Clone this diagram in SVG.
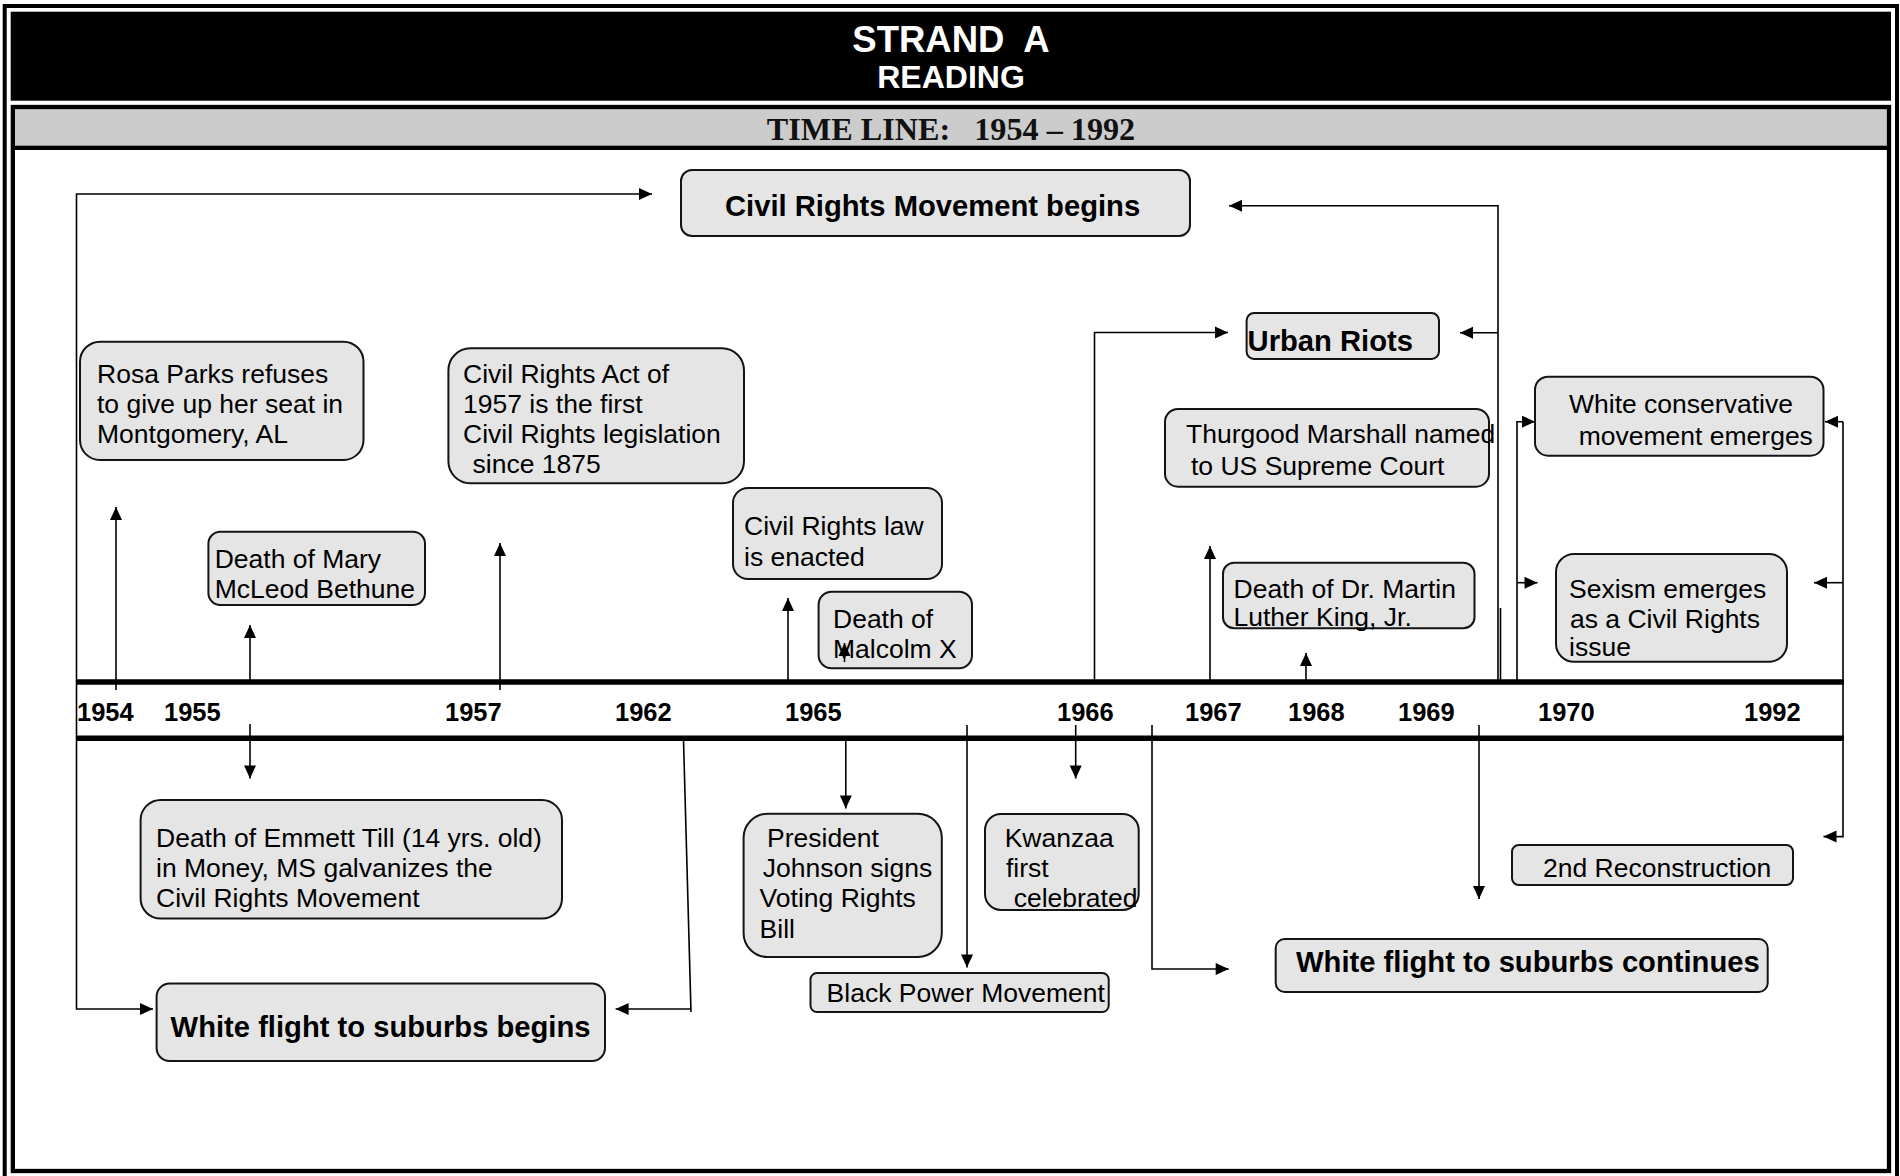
<svg xmlns="http://www.w3.org/2000/svg" width="1900" height="1176" viewBox="0 0 1900 1176">
<style>
.box{fill:#e5e5e5;stroke:#141414;stroke-width:2}
.t{font-family:"Liberation Sans",Arial,sans-serif;font-size:26.5px;fill:#000}
.tb{font-family:"Liberation Sans",Arial,sans-serif;font-size:29.2px;font-weight:bold;fill:#000}
.yr{font-family:"Liberation Sans",Arial,sans-serif;font-size:25.5px;font-weight:bold;fill:#000}
.c{fill:none;stroke:#000;stroke-width:1.6}
.bar{stroke:#000;stroke-width:5.5}
</style>
<defs>
<marker id="ah" markerUnits="userSpaceOnUse" markerWidth="13" markerHeight="12" refX="13" refY="6" orient="auto" overflow="visible">
<path d="M0,0 L13,6 L0,12 z" fill="#000"/>
</marker>
</defs>
<rect width="1900" height="1176" fill="#fff"/>
<g id="frame">
<rect x="4.7" y="6" width="1892.3" height="1180" fill="none" stroke="#000" stroke-width="4"/>
<rect x="10.7" y="11.7" width="1880.3" height="89" fill="#000"/>
<rect x="15" y="109" width="1872" height="37" fill="#cccccc"/>
<rect x="15" y="145.7" width="1872" height="4.3" fill="#000"/>
<rect x="12.85" y="107" width="1876.15" height="1064" fill="none" stroke="#000" stroke-width="4.3"/>
<text x="951" y="52" text-anchor="middle" xml:space="preserve" style="font-family:'Liberation Sans',Arial,sans-serif;font-size:36.5px;font-weight:bold;fill:#fff">STRAND  A</text>
<text x="951" y="88" text-anchor="middle" style="font-family:'Liberation Sans',Arial,sans-serif;font-size:32px;font-weight:bold;fill:#fff">READING</text>
<text x="951" y="140" text-anchor="middle" xml:space="preserve" style="font-family:'Liberation Serif','Times New Roman',serif;font-size:32.2px;font-weight:bold;fill:#111">TIME LINE:   1954 – 1992</text>
</g>
<g id="timeline">
<line class="bar" x1="76" y1="682" x2="1844" y2="682"/>
<line class="bar" x1="76" y1="738.3" x2="1844" y2="738.3"/>
<text class="yr" x="77" y="721">1954</text>
<text class="yr" x="164" y="721">1955</text>
<text class="yr" x="445" y="721">1957</text>
<text class="yr" x="615" y="721">1962</text>
<text class="yr" x="785" y="721">1965</text>
<text class="yr" x="1057" y="721">1966</text>
<text class="yr" x="1185" y="721">1967</text>
<text class="yr" x="1288" y="721">1968</text>
<text class="yr" x="1398" y="721">1969</text>
<text class="yr" x="1538" y="721">1970</text>
<text class="yr" x="1744" y="721">1992</text>
</g>
<g id="n-crm"><rect class="box" x="681" y="170" width="509" height="66" rx="11"/><text class="tb" x="725" y="216">Civil Rights Movement begins</text></g>
<g id="n-urban"><rect class="box" x="1246.6" y="313" width="192.4" height="46" rx="7.5"/><text class="tb" x="1247.6" y="351">Urban Riots</text></g>
<g id="n-rosa"><rect class="box" x="80" y="341.7" width="283.5" height="118.3" rx="20"/><text class="t"><tspan x="97" y="383">Rosa Parks refuses</tspan><tspan x="97" y="413">to give up her seat in</tspan><tspan x="97" y="443">Montgomery, AL</tspan></text></g>
<g id="n-bethune"><rect class="box" x="208.4" y="531.7" width="216.6" height="73.3" rx="12"/><text class="t"><tspan x="214.7" y="567.5">Death of Mary</tspan><tspan x="214.7" y="597.5">McLeod Bethune</tspan></text></g>
<g id="n-cra57"><rect class="box" x="448.4" y="348.3" width="295.6" height="135" rx="22"/><text class="t"><tspan x="463" y="383">Civil Rights Act of</tspan><tspan x="463" y="413">1957 is the first</tspan><tspan x="463" y="443">Civil Rights legislation</tspan><tspan x="472.5" y="473">since 1875</tspan></text></g>
<g id="n-crlaw"><rect class="box" x="733" y="488" width="209" height="91" rx="15"/><text class="t"><tspan x="744" y="535">Civil Rights law</tspan><tspan x="744" y="566">is enacted</tspan></text></g>
<g id="n-malcolm"><rect class="box" x="818.6" y="591.7" width="153.4" height="76.6" rx="13"/><text class="t"><tspan x="833" y="627.5">Death of</tspan><tspan x="833" y="658">Malcolm X</tspan></text></g>
<g id="n-thurgood"><rect class="box" x="1165" y="409" width="324" height="77.7" rx="13"/><text class="t"><tspan x="1186" y="443">Thurgood Marshall named</tspan><tspan x="1191" y="474.5">to US Supreme Court</tspan></text></g>
<g id="n-mlk"><rect class="box" x="1223" y="562.7" width="251.5" height="65.6" rx="11"/><text class="t"><tspan x="1233.5" y="597.5">Death of Dr. Martin</tspan><tspan x="1233.5" y="625.5">Luther King, Jr.</tspan></text></g>
<g id="n-whitecons"><rect class="box" x="1535" y="376.7" width="288.5" height="79" rx="13"/><text class="t"><tspan x="1569" y="413">White conservative</tspan><tspan x="1578.7" y="444.5">movement emerges</tspan></text></g>
<g id="n-sexism"><rect class="box" x="1556" y="554" width="231" height="107.7" rx="18"/><text class="t"><tspan x="1569" y="597.5">Sexism emerges</tspan><tspan x="1570" y="627.5">as a Civil Rights</tspan><tspan x="1569" y="655.5">issue</tspan></text></g>
<g id="n-recon"><rect class="box" x="1512" y="845" width="281" height="40" rx="6.7"/><text class="t" x="1543" y="876.5">2nd Reconstruction</text></g>
<g id="n-wfcont"><rect class="box" x="1275.7" y="939" width="492" height="53" rx="9"/><text class="tb" x="1296" y="972">White flight to suburbs continues</text></g>
<g id="n-kwanzaa"><rect class="box" x="985" y="814" width="153.7" height="96" rx="16"/><text class="t"><tspan x="1004.7" y="846.5">Kwanzaa</tspan><tspan x="1006" y="877">first</tspan><tspan x="1013.7" y="907">celebrated</tspan></text></g>
<g id="n-johnson"><rect class="box" x="743.6" y="813.7" width="198.2" height="143.3" rx="24"/><text class="t"><tspan x="767" y="846.5">President</tspan><tspan x="762.8" y="877">Johnson signs</tspan><tspan x="759.6" y="907">Voting Rights</tspan><tspan x="759.6" y="937.5">Bill</tspan></text></g>
<g id="n-blackpower"><rect class="box" x="810.5" y="973" width="298.2" height="39" rx="6.5"/><text class="t" x="826.6" y="1002">Black Power Movement</text></g>
<g id="n-emmett"><rect class="box" x="140.6" y="800" width="421.4" height="118.6" rx="20"/><text class="t"><tspan x="156" y="846.5">Death of Emmett Till (14 yrs. old)</tspan><tspan x="156" y="877">in Money, MS galvanizes the</tspan><tspan x="156" y="907">Civil Rights Movement</tspan></text></g>
<g id="n-wfbegins"><rect class="box" x="156.6" y="983.6" width="448.4" height="77.4" rx="13"/><text class="tb" x="170.6" y="1037">White flight to suburbs begins</text></g>
<g id="connectors">
<path class="c" d="M76.5,700 L76.5,194 L652,194" marker-end="url(#ah)"/>
<path class="c" d="M76.5,700 L76.5,1009 L153,1009" marker-end="url(#ah)"/>
<path class="c" d="M683.5,740 L691,1012"/>
<path class="c" d="M691,1009 L615.6,1009" marker-end="url(#ah)"/>
<path class="c" d="M116,690 L116,507" marker-end="url(#ah)"/>
<path class="c" d="M250,682 L250,625" marker-end="url(#ah)"/>
<path class="c" d="M250,724 L250,778.5" marker-end="url(#ah)"/>
<path class="c" d="M500,690 L500,543" marker-end="url(#ah)"/>
<path class="c" d="M788,682 L788,598" marker-end="url(#ah)"/>
<path class="c" d="M844.5,662 L844.5,643" marker-end="url(#ah)"/>
<path class="c" d="M845.8,739 L845.8,808.5" marker-end="url(#ah)"/>
<path class="c" d="M967,725 L967,967.5" marker-end="url(#ah)"/>
<path class="c" d="M1075.7,725 L1075.7,778.5" marker-end="url(#ah)"/>
<path class="c" d="M1094.5,682 L1094.5,332.5 L1228,332.5" marker-end="url(#ah)"/>
<path class="c" d="M1210,682 L1210,546" marker-end="url(#ah)"/>
<path class="c" d="M1306,682 L1306,653" marker-end="url(#ah)"/>
<path class="c" d="M1152,725 L1152,969 L1228.7,969" marker-end="url(#ah)"/>
<path class="c" d="M1479,725 L1479,899" marker-end="url(#ah)"/>
<path class="c" d="M1498,682 L1498,205.7 L1229,205.7" marker-end="url(#ah)"/>
<path class="c" d="M1498,332.7 L1460,332.7" marker-end="url(#ah)"/>
<path class="c" d="M1500.5,608 L1500.5,682"/>
<path class="c" d="M1517,682 L1517,421.7 L1535,421.7" marker-end="url(#ah)"/>
<path class="c" d="M1517,582.7 L1537.5,582.7" marker-end="url(#ah)"/>
<path class="c" d="M1843,421.7 L1843,836.6 L1823.5,836.6" marker-end="url(#ah)"/>
<path class="c" d="M1843,421.7 L1825,421.7" marker-end="url(#ah)"/>
<path class="c" d="M1843,582.7 L1814,582.7" marker-end="url(#ah)"/>
</g>
</svg>
